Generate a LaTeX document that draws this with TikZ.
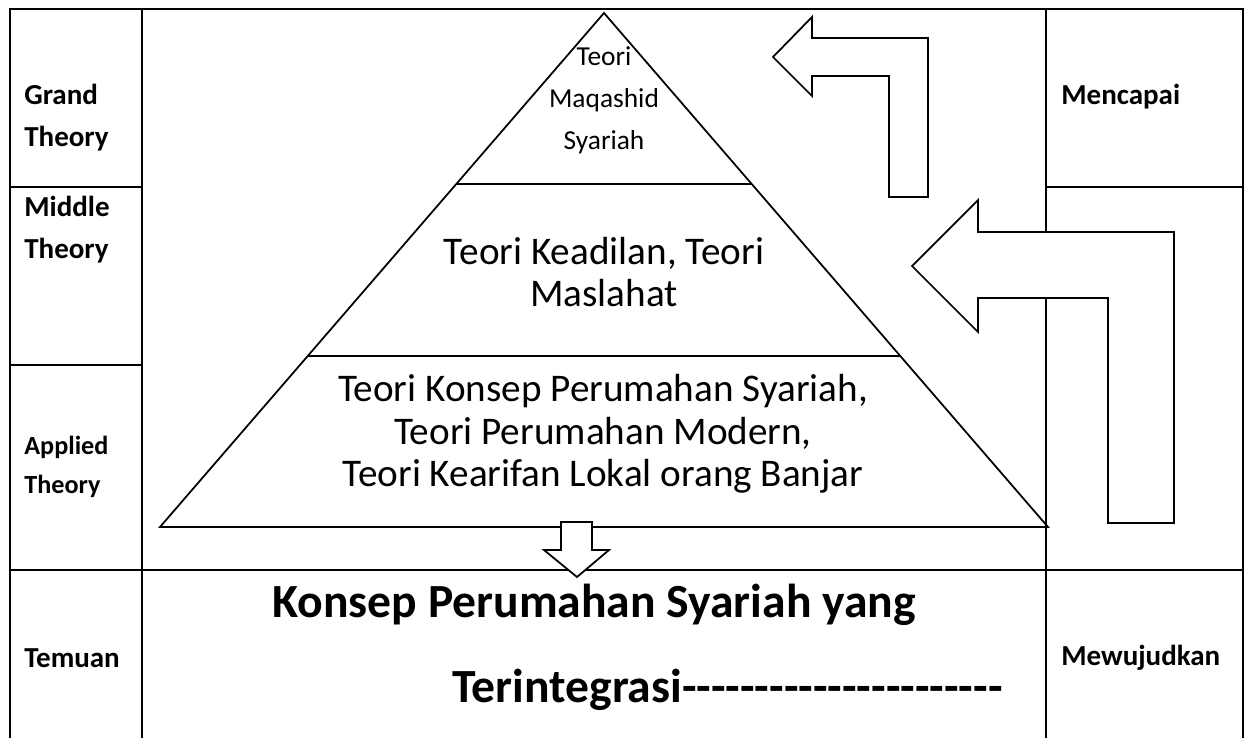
\documentclass[tikz,border=0pt]{standalone}
\usepackage{fontspec}
\setmainfont{Carlito}
\usetikzlibrary{positioning, calc}
\newcommand{\dashrun}[1]{\foreach \k in {1,...,#1}{-\kern0pt}}
\tikzset{x=0.02cm, y=-0.02cm,
    grid/.style={line width=1.1pt},
    layer/.style={line width=1pt},
    blockarrow/.style={draw, fill=white, line width=1pt, line join=miter},
    rowname/.style={font=\fontsize{16.5}{24}\selectfont\bfseries, align=left, anchor=west, inner sep=0pt},
    tiptext/.style={font=\fontsize{15.6}{23.9}\selectfont, align=center, inner sep=0pt},
    bandtext/.style={font=\fontsize{22.3}{24.3}\selectfont, align=center, inner sep=0pt},
    result/.style={font=\fontsize{27.1}{30}\selectfont\bfseries, inner sep=0pt}}

\begin{document}
\begin{tikzpicture}
\useasboundingbox[fill=white] (0,0) rectangle (1248,738);
% table
\draw[grid] (10,738) -- (10,9) -- (1243,9) -- (1243,738);
\draw[grid] (142,9) -- (142,738);
\draw[grid] (1046,9) -- (1046,738);
\draw[grid] (10,187) -- (142,187);
\draw[grid] (10,365) -- (142,365);
\draw[grid] (10,570) -- (1243,570);
\draw[grid] (1046,187) -- (1243,187);
% pyramid
\coordinate (p) at (604,13);
\coordinate (bl) at (160,527);
\coordinate (br) at (1048,527);
\draw[layer] (p) -- (bl) -- (br) -- cycle;
\draw[layer] ($(p)!1/3!(bl)$) -- ($(p)!1/3!(br)$);
\draw[layer] ($(p)!2/3!(bl)$) -- ($(p)!2/3!(br)$);
% arrows
\draw[blockarrow] (773,57) -- (812,17) -- (812,38) -- (928,38) -- (928,197)
    -- (889,197) -- (889,76) -- (812,76) -- (812,96) -- cycle;
\draw[blockarrow] (912,266) -- (978,200) -- (978,232) -- (1174,232) -- (1174,523)
    -- (1108,523) -- (1108,298) -- (978,298) -- (978,332) -- cycle;
\draw[blockarrow] (561,522) -- (592,522) -- (592,550) -- (609,550) -- (577,577)
    -- (544,550) -- (561,550) -- cycle;
% labels
\node[rowname] (g) at (24,118) {Grand\\Theory};
\node[rowname] (m) at (24,230) {Middle\\Theory};
\node[rowname, font=\fontsize{14.9}{22.2}\selectfont\bfseries] (a) at (24,467) {Applied\\Theory};
\node[rowname] (t) at (24,658) {Temuan};
\node[rowname] (c) at (1061,97) {Mencapai};
\node[rowname] (w) at (1061,658) {Mewujudkan};
\node[tiptext] (tp) at (604,100) {Teori\\Maqashid\\Syariah};
\node[bandtext] (md) at (604,272) {Teori Keadilan, Teori\\Maslahat};
\node[bandtext] (bs) at (603,434) {Teori Konsep Perumahan Syariah,\\Teori Perumahan Modern,\\Teori Kearifan Lokal orang Banjar};
\node[result, anchor=base] (ks) at (594,617) {Konsep Perumahan Syariah yang};
\node[result, anchor=base west] (ti) at (452,702) {Terintegrasi\dashrun{22}};
\end{tikzpicture}
\end{document}
